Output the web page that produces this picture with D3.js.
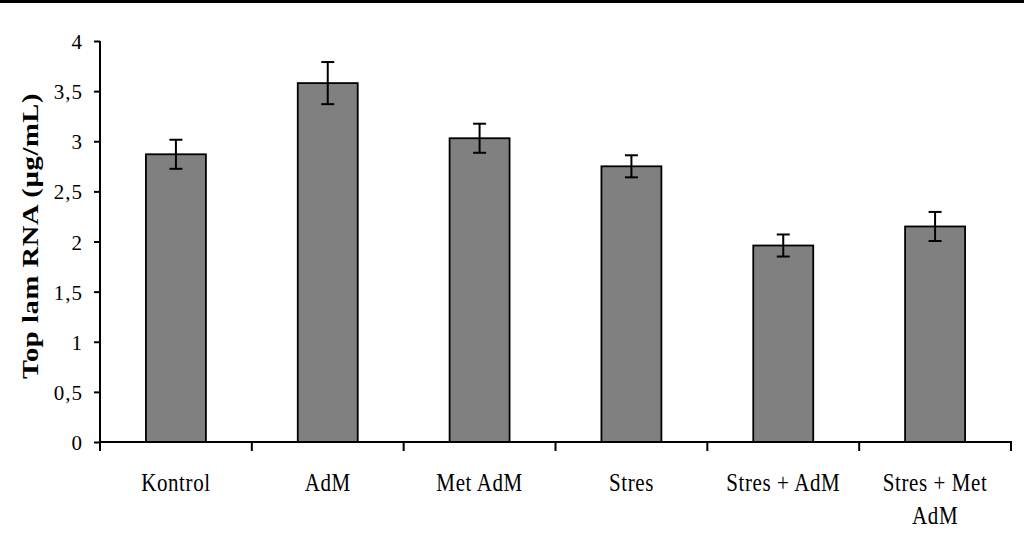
<!DOCTYPE html>
<html>
<head>
<meta charset="utf-8">
<script src="https://cdn.jsdelivr.net/npm/d3@7"></script>
<style>
  html, body { margin: 0; padding: 0; background: #fff; }
  svg { display: block; }
  text { font-family: "Liberation Serif", "Times New Roman", serif; fill: #000; }
</style>
</head>
<body>
<svg id="chart" width="1024" height="538"></svg>
<script>
const categories = ["Kontrol", "AdM", "Met AdM", "Stres", "Stres + AdM", "Stres + Met AdM"];
const values = [2.87, 3.58, 3.03, 2.75, 1.96, 2.15];
const errors = [0.145, 0.21, 0.145, 0.11, 0.11, 0.145];
const yTicks = [0, 0.5, 1, 1.5, 2, 2.5, 3, 3.5, 4];
const yTickLabels = ["0", "0,5", "1", "1,5", "2", "2,5", "3", "3,5", "4"];
const yTitle = "Top lam RNA (µg/mL)";

(function () {
const svg = d3.select("#chart");
const W = 1024, H = 538;
const mLeft = 100, mRight = 1011, mTop = 41, mBottom = 442;

// top black band
svg.append("rect").attr("x", 0).attr("y", 0).attr("width", W).attr("height", 3).attr("fill", "#000");

const pad = 0.605;
const x = d3.scaleBand().domain(categories).range([mLeft, mRight]).paddingInner(pad).paddingOuter(pad / 2);
const y = d3.scaleLinear().domain([0, 4]).range([mBottom, mTop]);

// bars
svg.append("g").selectAll("rect").data(categories).join("rect")
  .attr("x", d => x(d))
  .attr("y", (d, i) => y(values[i]))
  .attr("width", x.bandwidth())
  .attr("height", (d, i) => y(0) - y(values[i]))
  .attr("fill", "#808080")
  .attr("stroke", "#000")
  .attr("stroke-width", 1.8);

// error bars
const eg = svg.append("g").attr("stroke", "#000").attr("stroke-width", 2);
categories.forEach((c, i) => {
  const cx = x(c) + x.bandwidth() / 2;
  const y1 = y(values[i] + errors[i]), y2 = y(values[i] - errors[i]);
  eg.append("line").attr("x1", cx).attr("x2", cx).attr("y1", y1).attr("y2", y2);
  eg.append("line").attr("x1", cx - 6.5).attr("x2", cx + 6.5).attr("y1", y1).attr("y2", y1);
  eg.append("line").attr("x1", cx - 6.5).attr("x2", cx + 6.5).attr("y1", y2).attr("y2", y2);
});

// y axis
const yAxis = d3.axisLeft(y).tickValues(yTicks).tickFormat((d, i) => yTickLabels[i]).tickSize(6).tickPadding(11);
const gy = svg.append("g").attr("transform", `translate(${mLeft},0)`).call(yAxis);
gy.select(".domain").attr("stroke", "#000").attr("stroke-width", 2).attr("d", `M0,${mTop}V${mBottom}`);
gy.selectAll(".tick line").attr("stroke", "#000").attr("stroke-width", 2);
gy.selectAll(".tick text").attr("font-family", "Liberation Serif").attr("font-size", 21)
  .attr("letter-spacing", 1).attr("dy", "0.36em");

// x axis
svg.append("line").attr("x1", mLeft).attr("x2", mRight + 1).attr("y1", mBottom).attr("y2", mBottom)
  .attr("stroke", "#000").attr("stroke-width", 2);
const step = x.step();
const gx = svg.append("g").attr("stroke", "#000").attr("stroke-width", 2);
d3.range(categories.length + 1).forEach(i => {
  const bx = mLeft + i * step;
  gx.append("line").attr("x1", bx).attr("x2", bx).attr("y1", mBottom).attr("y2", mBottom + 9);
});

// x labels with wrapping
const lg = svg.append("g");
categories.forEach((c, i) => {
  const cx = x(c) + x.bandwidth() / 2;
  const t = lg.append("text")
    .attr("text-anchor", "middle")
    .attr("font-size", 21)
    .attr("letter-spacing", 0.6)
    .attr("transform", `translate(${cx},491) scale(1,1.17)`);
  const words = c.split(" ");
  let lines = [], cur = [];
  const tmp = t.append("tspan");
  words.forEach(w => {
    const test = cur.concat([w]).join(" ");
    tmp.text(test);
    if (tmp.node().getComputedTextLength() > 125 && cur.length) {
      lines.push(cur.join(" "));
      cur = [w];
    } else cur.push(w);
  });
  lines.push(cur.join(" "));
  tmp.remove();
  lines.forEach((ln, k) => {
    t.append("tspan").attr("x", 0).attr("y", k * 28).text(ln);
  });
});

// y title
svg.append("text")
  .attr("text-anchor", "middle")
  .attr("font-weight", "bold")
  .attr("font-size", 23)
  .attr("letter-spacing", 0.5)
  .attr("transform", "translate(38,236) scale(1,1.24) rotate(-90)")
  .text(yTitle);
})();
</script>
</body>
</html>
